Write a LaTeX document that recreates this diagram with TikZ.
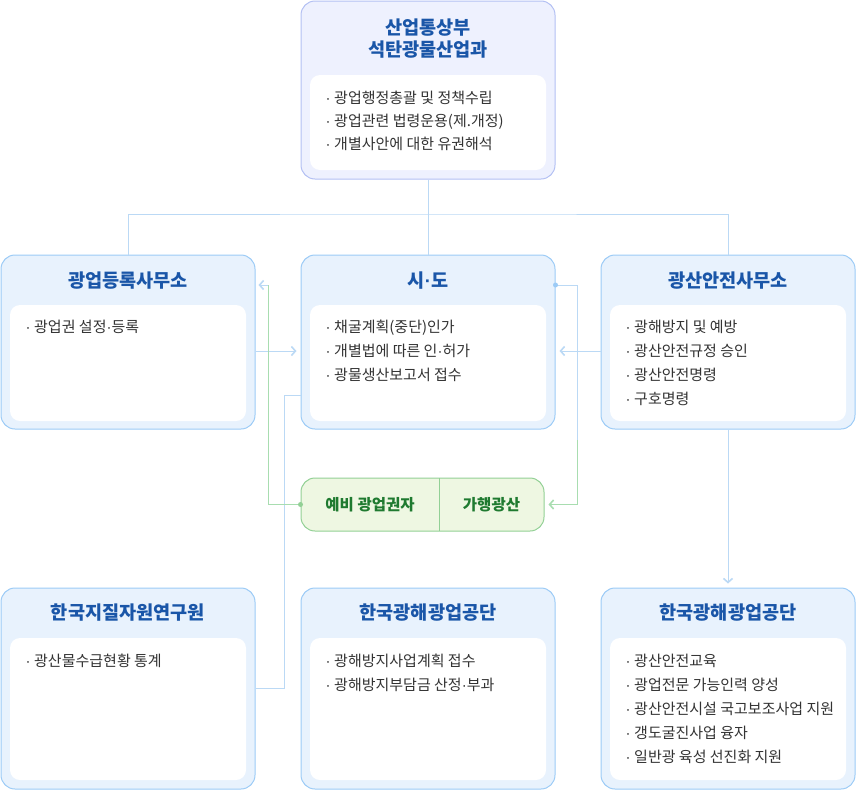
\documentclass[tikz,border=0pt]{standalone}
\usepackage{fontspec}
\setmainfont{Noto Sans CJK KR}
\newfontfamily\dotfont{Liberation Sans}
\usetikzlibrary{arrows.meta,calc}
\definecolor{boxfill}{HTML}{E8F2FD}
\definecolor{boxline}{HTML}{9CCBF6}
\definecolor{topfill}{HTML}{EEF1FE}
\definecolor{topline}{HTML}{B3C0F3}
\definecolor{titleblue}{HTML}{1A56A8}
\definecolor{txt}{HTML}{333333}
\definecolor{conn}{HTML}{BBD9F5}
\definecolor{gfill}{HTML}{EEF7E2}
\definecolor{gline}{HTML}{92D095}
\definecolor{gtext}{HTML}{1F7A30}
\definecolor{gconn}{HTML}{A8DDB0}
\tikzset{
  bluebox/.style={draw=boxline, fill=boxfill, line width=1pt, rounded corners=14pt, minimum width=254pt, inner sep=0pt},
  topbox/.style={bluebox, draw=topline, fill=topfill},
  whitebox/.style={fill=white, rounded corners=10pt, minimum width=236pt, inner sep=0pt},
  ttl/.style={font=\fontsize{18.6}{22}\selectfont\bfseries, text=titleblue, inner sep=0pt, align=center},
  item/.style={font=\fontsize{15}{20}\selectfont, text=txt, inner sep=0pt, anchor=base west},
  gtxt/.style={font=\fontsize{15.5}{18}\selectfont\bfseries, text=gtext, inner sep=0pt},
  conn/.style={draw=conn, line width=1pt},
  gconnl/.style={draw=gconn, line width=1pt},
  tipb/.style={-{Straight Barb[length=4pt,width=9pt,line width=1.6pt]}},
  dotc/.style={circle, inner sep=0pt, minimum size=5pt},
}
\newcommand{\md}{{\dotfont ·}}
\newcommand{\bl}[1]{\makebox[12pt][c]{\dotfont ·}#1}
\begin{document}
\begin{tikzpicture}[x=1pt,y=-1pt]
\useasboundingbox (0,0) rectangle (856,790);
% top box
\node[topbox, minimum height=178pt] (mot) at (428,90) {};
\node[whitebox, minimum height=95pt] (moti) at (428,122.5) {};
\node[ttl] (mott) at (428,39) {산업통상부\\석탄광물산업과};
\foreach \t [count=\i] in {{광업행정총괄 및 정책수립},{광업관련 법령운용(제.개정)},{개별사안에 대한 유권해석}}
  \node[item] (motl\i) at (322,{103.5+(\i-1)*23}) {\bl{\t}};
% row 2
\node[bluebox, minimum height=174pt] (reg) at (128,342) {};
\node[whitebox, minimum height=116pt] (regi) at (128,363) {};
\node[ttl] (regt) at (128,281) {광업등록사무소};
\node[item] (regl1) at (22,332.5) {\bl{광업권 설정\md 등록}};

\node[bluebox, minimum height=174pt] (sido) at (428,342) {};
\node[whitebox, minimum height=116pt] (sidoi) at (428,363) {};
\node[ttl] (sidot) at (428,281) {시\md 도};
\foreach \t [count=\i] in {{채굴계획(중단)인가},{개별법에 따른 인\md 허가},{광물생산보고서 접수}}
  \node[item] (sidol\i) at (322,{332.5+(\i-1)*24}) {\bl{\t}};

\node[bluebox, minimum height=174pt] (safe) at (728,342) {};
\node[whitebox, minimum height=116pt] (safei) at (728,363) {};
\node[ttl] (safet) at (728,281) {광산안전사무소};
\foreach \t [count=\i] in {{광해방지 및 예방},{광산안전규정 승인},{광산안전명령},{구호명령}}
  \node[item] (safel\i) at (622,{332.5+(\i-1)*24}) {\bl{\t}};

% green box
\node[draw=gline, fill=gfill, line width=1pt, rounded corners=14pt, minimum width=243pt, minimum height=53pt, inner sep=0pt] (grn) at (422.5,504.5) {};
\draw[gline, line width=1pt] (439,478) -- (439,531);
\node[gtxt] (grn1) at (370,504.5) {예비 광업권자};
\node[gtxt] (grn2) at (491.5,504.5) {가행광산};

% row 3
\node[bluebox, minimum height=201pt] (kigam) at (128,688.5) {};
\node[whitebox, minimum height=142pt] (kigami) at (128,709) {};
\node[ttl] (kigamt) at (128,613) {한국지질자원연구원};
\node[item] (kigaml1) at (22,666.5) {\bl{광산물수급현황 통계}};

\node[bluebox, minimum height=201pt] (komir) at (428,688.5) {};
\node[whitebox, minimum height=142pt] (komiri) at (428,709) {};
\node[ttl] (komirt) at (428,613) {한국광해광업공단};
\foreach \t [count=\i] in {{광해방지사업계획 접수},{광해방지부담금 산정\md 부과}}
  \node[item] (komirl\i) at (322,{666.5+(\i-1)*24}) {\bl{\t}};

\node[bluebox, minimum height=201pt] (komir2) at (728,688.5) {};
\node[whitebox, minimum height=142pt] (komir2i) at (728,709) {};
\node[ttl] (komir2t) at (728,613) {한국광해광업공단};
\foreach \t [count=\i] in {{광산안전교육},{광업전문 가능인력 양성},{광산안전시설 국고보조사업 지원},{갱도굴진사업 융자},{일반광 육성 선진화 지원}}
  \node[item] (komir2l\i) at (622,{666.5+(\i-1)*24}) {\bl{\t}};

% connectors
\coordinate (hub) at (428,214);
\draw[conn] (mot.south) -- (hub);
\draw[conn] (hub) -- (sido.north);
\draw[conn] (reg.north) |- (hub) -| (safe.north);
\draw[conn, tipb] ($(reg.east)+(0,9)$) -- ($(sido.west)+(-4,9)$);
\draw[conn, tipb] ($(safe.west)+(0,9)$) -- ($(sido.east)+(4,9)$);
\draw[conn, tipb, shorten >=4pt] (safe.south) -- (komir2.north);
\coordinate (kjoint) at (284,395);
\draw[conn] ($(sido.west)+(0,53)$) -- (kjoint) |- (kigam.east);
% green connectors
\coordinate (gl) at (268,285);
\draw[gconnl] (grn.west) -| (gl);
\draw[conn, tipb] (gl) -- ($(reg.east)+(3,-57)$);
\node[dotc, fill=gline] (gdot) at (grn.west) {};
\coordinate (gr) at (577,285);
\coordinate (grm) at (577,440);
\draw[conn] ($(sido.east)+(0,-57)$) -- (gr) -- (grm);
\draw[gconnl, tipb] (grm) |- ($(grn.east)+(4,0)$);
\node[dotc, fill=boxline] (bdot) at ($(sido.east)+(0,-57)$) {};
\end{tikzpicture}
\end{document}
